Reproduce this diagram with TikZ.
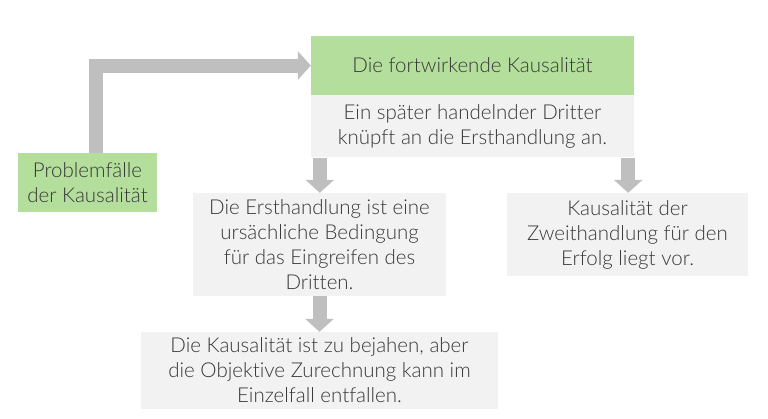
\documentclass[tikz,border=0pt]{standalone}
\usepackage{fontspec}
\setmainfont{Lato Light}[Ligatures=NoCommon]
\usetikzlibrary{arrows.meta, positioning}
\definecolor{boxgreen}{HTML}{B3DE9B}
\definecolor{boxgray}{HTML}{F2F2F2}
\definecolor{arrowgray}{HTML}{BFBFBF}
\definecolor{textgray}{HTML}{383838}

\begin{document}
\begin{tikzpicture}[x=1pt, y=-1pt]

    % Styles
    \tikzset{
        boxstyle/.style={rectangle, inner sep=0pt, align=center, text=textgray, font=\fontsize{20.5}{25}\selectfont},
        greenbox/.style={boxstyle, fill=boxgreen},
        graybox/.style={boxstyle, fill=boxgray},
        bigarrow/.style={-{Triangle[length=13pt, width=28pt]}, line width=14pt, arrowgray}
    }

    \useasboundingbox (0,0) rectangle (768,418);

    % Start
    \node[greenbox, minimum width=139pt, minimum height=59pt] (prob) at (87.5, 182.5) {Problemfälle\\der Kausalität};

    % Head
    \node[greenbox, minimum width=323pt, minimum height=59pt] (fort) at (472.5, 65.5) {Die fortwirkende Kausalität};
    \node[graybox, minimum width=323pt, minimum height=62pt, below=0pt of fort] (desc) {Ein später handelnder Dritter\\knüpft an die Ersthandlung an.};

    % Branches
    \node[graybox, minimum width=253pt, minimum height=103pt] (erst) at (319.5, 244.5) {Die Ersthandlung ist eine\\ursächliche Bedingung\\für das Eingreifen des\\Dritten.};
    \node[graybox, minimum width=241pt, minimum height=83pt] (zweit) at (627.5, 234.5) {Kausalität der\\Zweithandlung für den\\Erfolg liegt vor.};
    \node[graybox, minimum width=357pt, minimum height=77pt] (bejah) at (319.5, 370.5) {Die Kausalität ist zu bejahen, aber\\die Objektive Zurechnung kann im\\Einzelfall entfallen.};

    % Arrows
    \draw[bigarrow] ([xshift=8pt]prob.north) |- (fort.west);
    \draw[bigarrow] ([xshift=9pt]desc.south west) -- ([xshift=9pt]desc.south west |- erst.north);
    \draw[bigarrow] ([xshift=-6pt]desc.south east) -- ([xshift=-6pt]desc.south east |- zweit.north);
    \draw[bigarrow] (erst.south) -- (bejah.north);

\end{tikzpicture}
\end{document}
